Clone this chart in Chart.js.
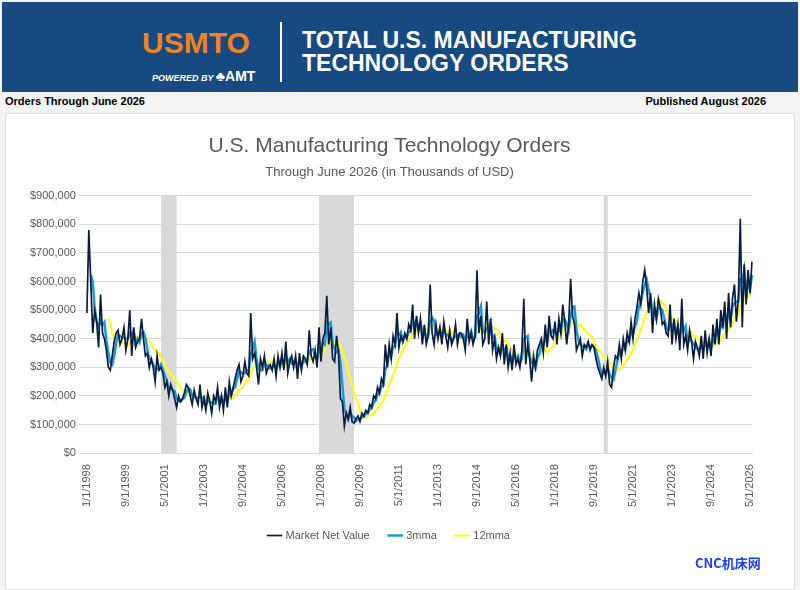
<!DOCTYPE html>
<html><head><meta charset="utf-8">
<script src="https://cdn.jsdelivr.net/npm/chart.js@4"></script>
<style>
body{margin:0;width:800px;height:590px;background:#f4f4f4;font-family:"Liberation Sans",Arial,sans-serif;position:relative;overflow:hidden}
#hdr{position:absolute;left:2px;top:2px;width:796px;height:90px;background:#174a80}
#logo{position:absolute;left:140px;top:24px;font:bold 30px "Liberation Sans";color:#f58220;letter-spacing:0px}
#pw{position:absolute;left:150px;top:66px;font:italic bold 9px "Liberation Sans";color:#fff}
#pw b{font-style:normal;font-size:14px}
#sep{position:absolute;left:278px;top:20px;width:2px;height:60px;background:#fff}
#ttl{position:absolute;left:300px;top:27px;font:bold 23px "Liberation Sans";color:#fff;line-height:23px}
#sub1{position:absolute;left:5px;top:95px;font:bold 11px "Liberation Sans"}
#sub2{position:absolute;right:34px;top:95px;font:bold 11px "Liberation Sans"}
#box{position:absolute;left:5px;top:113px;width:788px;height:475px;background:#fff;border:1px solid #ddd}
#cnc{position:absolute;left:695px;top:553px;font:bold 13px "Noto Sans CJK SC";color:#1a3cff}
</style></head><body>
<div id="hdr"><div id="logo">USMTO</div><div id="pw">POWERED BY <b>&#9827;AMT</b></div><div id="sep"></div>
<div id="ttl">TOTAL U.S. MANUFACTURING<br>TECHNOLOGY ORDERS</div></div>
<div id="sub1">Orders Through June 2026</div><div id="sub2">Published August 2026</div>
<div id="box"><canvas id="c" width="788" height="475"></canvas></div>
<div id="cnc">CNC机床网</div>
<script>
const marketNetValue = [
490,780,600,420,500,460,370,555,420,400,360,300,
290,340,390,420,430,380,400,440,360,400,500,340,
440,370,390,400,470,400,340,350,300,330,300,250,
340,290,300,280,230,250,200,240,220,190,160,200,
180,190,210,240,230,200,170,220,190,170,240,160,
190,150,210,180,140,200,180,230,160,200,150,230,
160,250,200,230,260,290,310,250,270,320,280,270,
490,330,350,300,240,330,300,340,280,300,310,290,
330,270,340,300,350,290,390,280,320,340,300,340,
260,350,290,340,330,310,430,340,320,360,300,440,
320,400,420,550,380,440,330,320,410,350,190,180,
95,140,120,160,110,105,120,130,110,140,130,150,
140,170,160,200,190,230,210,260,240,380,300,380,
330,410,380,490,370,410,390,420,400,450,430,520,
400,480,420,470,380,450,380,410,590,420,380,450,
400,440,380,460,410,370,430,380,400,450,380,420,
420,400,360,470,390,420,380,410,640,420,480,380,
400,530,380,470,360,400,330,370,340,420,310,380,
300,350,290,380,310,330,300,360,540,310,380,330,
250,340,300,360,380,400,350,450,370,480,410,400,
460,380,470,420,520,460,380,450,610,480,450,360,
380,400,340,380,370,390,360,380,370,330,300,280,
260,300,270,320,240,230,300,340,330,380,330,400,
360,420,390,460,400,470,510,560,520,600,640,580,
490,560,420,520,470,540,510,450,460,420,410,520,
380,470,400,450,360,540,380,410,360,430,390,330,
390,370,340,410,330,430,350,400,340,450,380,470,
380,500,440,530,400,560,440,540,590,460,540,820,
440,660,520,640,560,670].map(v=>v*1000);
const startYear = 1998, tickStep = 20;
const recessions = [[38,46],[119,137],[265,267]];
const months = marketNetValue.map((_,i)=>`${i%12+1}/1/${startYear+Math.floor(i/12)}`);
function mma(arr,n){return arr.map((_,i)=>i<n-1?null:arr.slice(i-n+1,i+1).reduce((a,b)=>a+b,0)/n);}
const mma3 = mma(marketNetValue,3), mma12 = mma(marketNetValue,12);
const shade={id:'shade',beforeDatasetsDraw(ch){const x=ch.scales.x,a=ch.chartArea,c=ch.ctx;c.save();c.fillStyle='#d9d9d9';
 recessions.forEach(([s,e])=>{const x0=x.getPixelForValue(s),x1=x.getPixelForValue(e);c.fillRect(x0,a.top,x1-x0,a.bottom-a.top);});c.restore();}};
new Chart(document.getElementById('c'),{type:'line',
data:{labels:months,datasets:[
{label:'Market Net Value',data:marketNetValue,borderColor:'#0c1c3c',borderWidth:1.7,pointRadius:0,tension:0},
{label:'3mma',data:mma3,borderColor:'#199bd8',borderWidth:2.5,pointRadius:0,tension:0},
{label:'12mma',data:mma12,borderColor:'#ffff00',borderWidth:2,pointRadius:0,tension:0}]},
options:{responsive:false,animation:false,
layout:{padding:{left:21,right:42,top:12,bottom:38}},
plugins:{title:{display:true,text:'U.S. Manufacturing Technology Orders',color:'#595959',font:{size:21,family:'Liberation Sans',weight:'normal'},padding:{top:8,bottom:5}},
subtitle:{display:true,text:'Through June 2026 (in Thousands of USD)',color:'#595959',font:{size:13,family:'Liberation Sans'},padding:{bottom:16}},
legend:{position:'bottom',labels:{usePointStyle:true,pointStyle:'line',boxWidth:22,color:'#595959',font:{size:11,family:'Liberation Sans'},padding:20}},tooltip:{enabled:false}},
scales:{y:{min:0,max:900000,ticks:{stepSize:100000,color:'#595959',font:{size:11,family:'Liberation Sans'},callback:v=>'$'+v.toLocaleString('en-US')},grid:{color:'#d9d9d9'},border:{display:false}},
x:{grid:{display:false},border:{color:'#d9d9d9'},ticks:{autoSkip:false,maxRotation:90,minRotation:90,color:'#595959',font:{size:11,family:'Liberation Sans'},
 callback:(v,i)=>i%tickStep===0?months[i]:null}}}},
plugins:[shade]});
</script></body></html>
